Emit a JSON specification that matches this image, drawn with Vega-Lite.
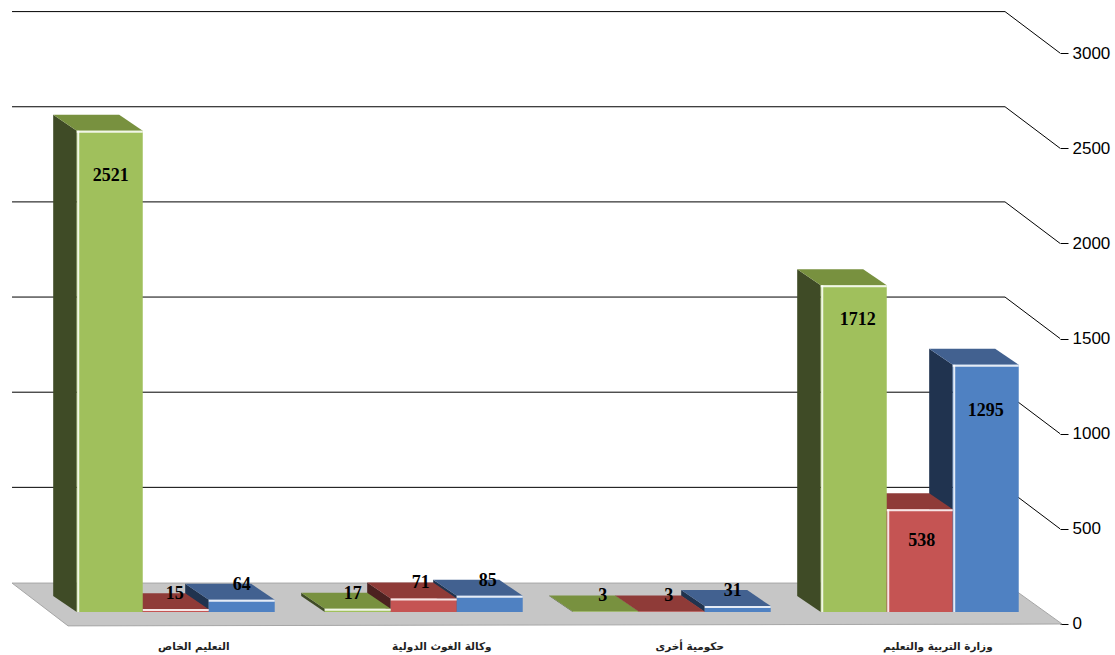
{
"$schema":"https://vega.github.io/schema/vega-lite/v6.json",
"width":1060,"height":655,"padding":{"left":0,"top":0,"right":55,"bottom":0},"autosize":{"type":"none"},
"background":"white",
"config":{"view":{"stroke":null}},
"data":{"values":[
{"category":"التعليم الخاص","series":"s1","value":2521},
{"category":"التعليم الخاص","series":"s2","value":15},
{"category":"التعليم الخاص","series":"s3","value":64},
{"category":"وكالة الغوث الدولية","series":"s1","value":17},
{"category":"وكالة الغوث الدولية","series":"s2","value":71},
{"category":"وكالة الغوث الدولية","series":"s3","value":85},
{"category":"حكومية أخرى","series":"s1","value":3},
{"category":"حكومية أخرى","series":"s2","value":3},
{"category":"حكومية أخرى","series":"s3","value":31},
{"category":"وزارة التربية والتعليم","series":"s1","value":1712},
{"category":"وزارة التربية والتعليم","series":"s2","value":538},
{"category":"وزارة التربية والتعليم","series":"s3","value":1295}
]},
"transform":[
{"calculate":"indexof(['التعليم الخاص','وكالة الغوث الدولية','حكومية أخرى','وزارة التربية والتعليم'],datum.category)+indexof(['s1','s2','s3'],datum.series)*0.2661","as":"fx"},
{"calculate":"datum.fx+0.2661","as":"fx2"},
{"calculate":"datum.value*1.003+63","as":"ft"}
],
"layer":[
{"data":{"values":[
{"x":-0.261,"y":215,"y2":215},
{"x":-0.035,"y":215,"y2":-10},
{"x":3.743,"y":215,"y2":-1},
{"x":3.973,"y":0,"y2":0}
]},
"transform":[],
"mark":{"type":"area","color":"#c6c6c6","stroke":"#a6a6a6","strokeWidth":1},
"encoding":{
"x":{"field":"x","type":"quantitative","scale":{"domain":[-0.3095,3.9647],"nice":false,"zero":false},"axis":null},
"y":{"field":"y","type":"quantitative","scale":{"domain":[-163,3279],"nice":false,"zero":false},"axis":{"orient":"right","values":[0,500,1000,1500,2000,2500,3000],"format":"d","title":null,"grid":false,"domain":false,"tickSize":8,"tickColor":"#000","tickWidth":1,"labelPadding":4,"labelFont":"Liberation Sans","labelFontSize":17,"labelColor":"#000","labelBound":false,"labelFlush":false,"labelOverlap":false}},
"y2":{"field":"y2"}
}},
{"data":{"values":[{"value":500},{"value":1000},{"value":1500},{"value":2000},{"value":2500},{"value":3000}]},
"transform":[
{"calculate":"[0,1,2]","as":"k"},{"flatten":["k"]},
{"calculate":"[-0.261,3.743,3.965][datum.k]","as":"wx"},
{"calculate":"datum.k<2?datum.value+218:datum.value","as":"wy"}],
"mark":{"type":"line","color":"#000","strokeWidth":1},
"encoding":{
"x":{"field":"wx","type":"quantitative"},
"y":{"field":"wy","type":"quantitative"},
"detail":{"field":"value"}
}},
{"transform":[
{"calculate":"[0,1]","as":"k"},{"flatten":["k"]},
{"calculate":"datum.fx-0.095+datum.k*0.095","as":"px"},
{"calculate":"datum.k==0?datum.ft+84:datum.ft","as":"py"},
{"calculate":"datum.k==0?147:63","as":"py2"}],
"mark":{"type":"area"},
"encoding":{
"x":{"field":"px","type":"quantitative"},
"y":{"field":"py","type":"quantitative"},
"y2":{"field":"py2"},
"detail":{"field":"category"},
"color":{"field":"series","type":"nominal","legend":null,"scale":{"domain":["s1","s2","s3"],"range":["#3F4B26","#4C2120","#20334F"]}}
}},
{"transform":[
{"calculate":"[0,1,2,3]","as":"k"},{"flatten":["k"]},
{"calculate":"[datum.fx-0.095,datum.fx,datum.fx2-0.095,datum.fx2][datum.k]","as":"px"},
{"calculate":"datum.k<3?datum.ft+84:datum.ft","as":"py"},
{"calculate":"datum.k<1?datum.ft+84:datum.ft","as":"py2"}],
"mark":{"type":"area"},
"encoding":{
"x":{"field":"px","type":"quantitative"},
"y":{"field":"py","type":"quantitative"},
"y2":{"field":"py2"},
"detail":{"field":"category"},
"color":{"field":"series","type":"nominal","legend":null,"scale":{"domain":["s1","s2","s3"],"range":["#78913F","#8F3B38","#426190"]}}
}},
{"transform":[{"calculate":"63","as":"base"}],
"mark":{"type":"rect"},
"encoding":{
"x":{"field":"fx","type":"quantitative"},
"x2":{"field":"fx2"},
"y":{"field":"ft","type":"quantitative"},
"y2":{"field":"base"},
"color":{"field":"series","type":"nominal","legend":null,"scale":{"domain":["s1","s2","s3"],"range":["#A0C05C","#C55453","#4F81C2"]}}
}},
{"transform":[{"filter":"datum.value>10"},{"calculate":"datum.ft-5","as":"ty"}],
"mark":{"type":"rule","color":"#ffffff","size":2,"opacity":0.85},
"encoding":{
"x":{"field":"fx","type":"quantitative"},
"x2":{"field":"fx2"},
"y":{"field":"ty","type":"quantitative"}
}},
{"transform":[{"filter":"datum.value>100"},{"calculate":"datum.fx+0.006","as":"lx"},{"calculate":"63","as":"base"}],
"mark":{"type":"rule","color":"#ffffff","size":2,"opacity":0.85},
"encoding":{
"x":{"field":"lx","type":"quantitative"},
"y":{"field":"ft","type":"quantitative"},
"y2":{"field":"base"}
}},
{"transform":[
{"calculate":"({2521:236,1712:184,1295:241,538:168})[datum.value]||-79","as":"off"},
{"calculate":"datum.ft-datum.off","as":"ty"},
{"calculate":"datum.fx+0.133+(({2521:1,1712:4,1295:0,538:2,15:-1,64:0,17:-5,71:-3,85:-2,3:-3,31:-5})[datum.value])/248","as":"tx"}],
"mark":{"type":"text","font":"Liberation Serif","fontWeight":"bold","fontSize":18,"color":"#000","align":"center","baseline":"middle"},
"encoding":{
"x":{"field":"tx","type":"quantitative"},
"y":{"field":"ty","type":"quantitative"},
"text":{"field":"value","type":"quantitative"}
}},
{"transform":[{"filter":"datum.series=='s1'"},{"calculate":"datum.fx+0.472","as":"cx"},{"calculate":"-123","as":"cy"}],
"mark":{"type":"text","font":"DejaVu Sans","fontWeight":"bold","fontSize":10.5,"color":"#222","align":"center","baseline":"middle"},
"encoding":{
"x":{"field":"cx","type":"quantitative"},
"y":{"field":"cy","type":"quantitative"},
"text":{"field":"category","type":"nominal"}
}}
],
"resolve":{"scale":{"color":"independent"}}
}
